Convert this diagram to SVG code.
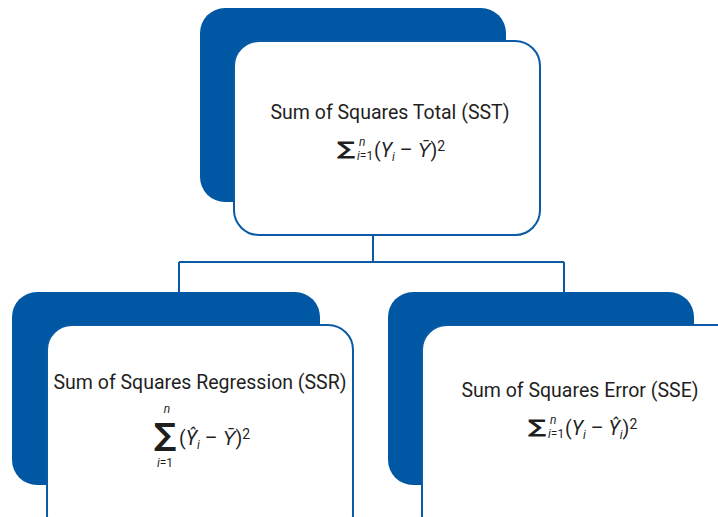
<svg xmlns="http://www.w3.org/2000/svg" width="718" height="517" viewBox="0 0 718 517">
<style>
.back{fill:#0057a4}
.front{fill:#fff;stroke:#0a5aa6;stroke-width:2}
.conn{fill:none;stroke:#0a5aa6;stroke-width:2}
text{font-family:Roboto,"Liberation Sans",sans-serif;fill:#1f1f1f}
.t{font-size:19.5px}
.f{font-size:19.5px}
.sig{font-family:"DejaVu Sans",sans-serif;font-size:19px;font-weight:bold}
.big{font-family:"DejaVu Sans",sans-serif;font-size:31px;font-weight:bold}
.it{font-style:italic}
.s{font-size:12px}
.sq{font-size:14px}
</style>
<rect width="718" height="517" fill="#fff"/>
<g id="connectors">
<path class="conn" d="M373 235V262M179 262H564M179 262V293M564 262V293"/>
</g>
<g id="node-sst">
<rect class="back" x="200" y="8" width="306" height="194" rx="25"/>
<rect class="front" x="234" y="41" width="306" height="194" rx="25"/>
<text class="t" x="390" y="119" text-anchor="middle">Sum of Squares Total (SST)</text>
<text class="sig" transform="translate(337 155) scale(1.35 1)">∑</text>
<text class="s it" x="359" y="146">n</text>
<text class="s" x="357" y="160"><tspan class="it">i</tspan>=1</text>
<text class="f" x="374" y="157">(<tspan class="it">Y</tspan><tspan class="s it" dy="4">i</tspan><tspan dy="-4"> – </tspan><tspan class="it">Ȳ</tspan>)<tspan class="sq" dy="-6">2</tspan></text>
</g>
<g id="node-ssr">
<rect class="back" x="12" y="292" width="308" height="193" rx="25"/>
<rect class="front" x="47" y="325" width="306" height="215" rx="25"/>
<text class="t" x="200" y="389" text-anchor="middle">Sum of Squares Regression (SSR)</text>
<text class="big" x="165" y="445" text-anchor="middle">∑</text>
<text class="s it" x="167" y="413" text-anchor="middle">n</text>
<text class="s" x="165" y="467" text-anchor="middle"><tspan class="it">i</tspan>=1</text>
<text class="f" x="179" y="445">(<tspan class="it">Ŷ</tspan><tspan class="s it" dy="4">i</tspan><tspan dy="-4"> – </tspan><tspan class="it">Ȳ</tspan>)<tspan class="sq" dy="-6">2</tspan></text>
</g>
<g id="node-sse">
<rect class="back" x="388" y="292" width="306" height="193" rx="25"/>
<rect class="front" x="422" y="325" width="320" height="215" rx="25"/>
<text class="t" x="580" y="397" text-anchor="middle">Sum of Squares Error (SSE)</text>
<text class="sig" transform="translate(528 433) scale(1.35 1)">∑</text>
<text class="s it" x="550" y="424">n</text>
<text class="s" x="548" y="438"><tspan class="it">i</tspan>=1</text>
<text class="f" x="565" y="435">(<tspan class="it">Y</tspan><tspan class="s it" dy="4">i</tspan><tspan dy="-4"> – </tspan><tspan class="it">Ŷ</tspan><tspan class="s it" dy="4">i</tspan><tspan dy="-4">)</tspan><tspan class="sq" dy="-6">2</tspan></text>
</g>
</svg>
